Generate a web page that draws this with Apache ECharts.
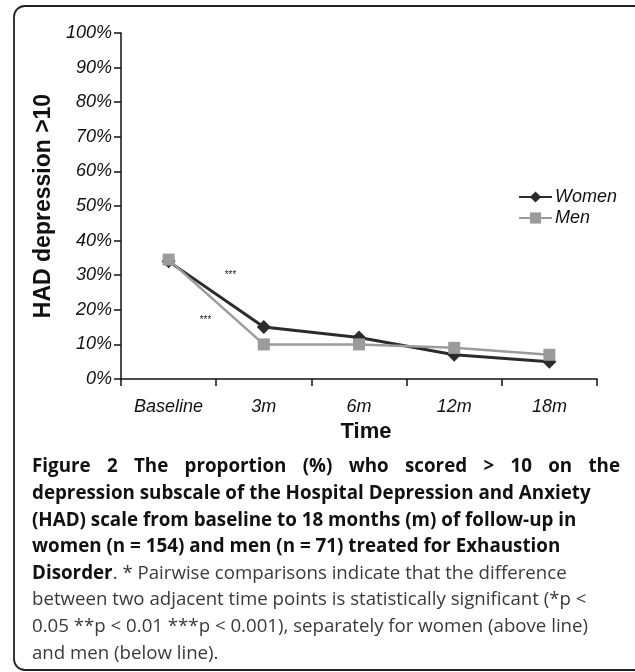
<!DOCTYPE html>
<html>
<head>
<meta charset="utf-8">
<script src="https://cdn.jsdelivr.net/npm/echarts@6/dist/echarts.min.js"></script>
<style>
  html, body { margin: 0; padding: 0; background: #fff; }
  #chart { width: 635px; height: 672px; }
</style>
</head>
<body>
<div id="chart"></div>
<script>
// ---- data ----
const categories = ['Baseline', '3m', '6m', '12m', '18m'];
const women = [34, 15, 12, 7, 5];
const men = [34.5, 10, 10, 9, 7];
const seriesNames = ['Women', 'Men'];
const yAxisTitle = 'HAD depression >10';
const xAxisTitle = 'Time';
const sigWomen = '***';
const sigMen = '***';
const captionBoldLines = [
  'Figure 2 The proportion (%) who scored > 10 on the',
  'depression subscale of the Hospital Depression and Anxiety',
  '(HAD) scale from baseline to 18 months (m) of follow-up in',
  'women (n = 154) and men (n = 71) treated for Exhaustion'
];
const captionMixedBold = 'Disorder';
const captionMixedNormal = '. * Pairwise comparisons indicate that the difference';
const captionNormalLines = [
  'between two adjacent time points is statistically significant (*p <',
  '0.05 **p < 0.01 ***p < 0.001), separately for women (above line)',
  'and men (below line).'
];

// ---- layout helpers ----
const FONT = '"Liberation Sans", Arial, Helvetica, sans-serif';
const CAPFONT = '"Open Sans", "Noto Sans", sans-serif';
const ctx = document.createElement('canvas').getContext('2d');
function tw(text, weight, size, family) {
  ctx.font = weight + ' ' + size + 'px ' + family;
  return ctx.measureText(text).width;
}
const capLeft = 32, capRight = 620;
const boldSize = 20 * 559 / tw(captionBoldLines[1], 'bold', 20, CAPFONT);
const normSize = 20 * 555 / tw(captionNormalLines[0], 'normal', 20, CAPFONT);
const lineY0 = 467, lineH = 26.6;

const graphics = [];
// frame
graphics.push({
  type: 'rect', shape: { x: 14, y: 6, width: 650, height: 664, r: 11 },
  style: { fill: 'none', stroke: '#222', lineWidth: 1.8 }, silent: true
});
// significance annotations
graphics.push({ type: 'text', x: 230, y: 275, style: { text: sigWomen, fontSize: 10, fontFamily: FONT, fontStyle: 'italic', fill: '#222', align: 'center', verticalAlign: 'middle' } });
graphics.push({ type: 'text', x: 205, y: 320, style: { text: sigMen, fontSize: 10, fontFamily: FONT, fontStyle: 'italic', fill: '#222', align: 'center', verticalAlign: 'middle' } });

// first caption line, justified
(function () {
  const words = captionBoldLines[0].split(' ');
  const widths = words.map(w => tw(w, 'bold', boldSize, CAPFONT));
  const total = widths.reduce((a, b) => a + b, 0);
  const gap = (capRight - capLeft - total) / (words.length - 1);
  let x = capLeft;
  words.forEach((w, i) => {
    graphics.push({ type: 'text', x: x, y: lineY0, style: { text: w, fontSize: boldSize, fontWeight: 'bold', fontFamily: CAPFONT, fill: '#111', align: 'left', verticalAlign: 'middle' } });
    x += widths[i] + gap;
  });
})();
for (let i = 1; i < captionBoldLines.length; i++) {
  graphics.push({ type: 'text', x: capLeft, y: lineY0 + lineH * i, style: { text: captionBoldLines[i], fontSize: boldSize, fontWeight: 'bold', fontFamily: CAPFONT, fill: '#111', align: 'left', verticalAlign: 'middle' } });
}
graphics.push({
  type: 'text', x: capLeft, y: lineY0 + lineH * 4,
  style: {
    text: '{b|' + captionMixedBold + '}{n|' + captionMixedNormal + '}',
    align: 'left', verticalAlign: 'middle',
    rich: {
      b: { fontSize: boldSize, fontWeight: 'bold', fontFamily: CAPFONT, fill: '#111' },
      n: { fontSize: normSize, fontWeight: 'normal', fontFamily: CAPFONT, fill: '#3a3a3a' }
    }
  }
});
captionNormalLines.forEach((t, i) => {
  graphics.push({ type: 'text', x: capLeft, y: lineY0 + lineH * (5 + i), style: { text: t, fontSize: normSize, fontFamily: CAPFONT, fill: '#3a3a3a', align: 'left', verticalAlign: 'middle' } });
});

const chart = echarts.init(document.getElementById('chart'), null, { renderer: 'canvas' });
chart.setOption({
  backgroundColor: '#fff',
  animation: false,
  grid: { left: 121, right: 38, top: 33, bottom: 293, containLabel: false },
  legend: {
    orient: 'vertical', left: 513, top: 183,
    itemWidth: 33, itemHeight: 14, itemGap: 3,
    data: seriesNames,
    textStyle: { fontFamily: FONT, fontStyle: 'italic', fontSize: 18, color: '#111', padding: [0, 0, 0, -2] }
  },
  xAxis: {
    type: 'category', data: categories, boundaryGap: true,
    name: xAxisTitle, nameLocation: 'middle', nameGap: 41,
    nameTextStyle: { fontFamily: FONT, fontWeight: 'bold', fontSize: 22, color: '#111', padding: [0, 0, 0, 14] },
    axisLine: { lineStyle: { color: '#111', width: 1.5 } },
    axisTick: { show: true, length: 7, alignWithLabel: false, lineStyle: { color: '#111', width: 1.5 } },
    axisLabel: { fontFamily: FONT, fontStyle: 'italic', fontSize: 18, color: '#111', margin: 19 },
    splitLine: { show: false }
  },
  yAxis: {
    type: 'value', min: 0, max: 100, interval: 10,
    name: yAxisTitle, nameLocation: 'middle', nameGap: 61,
    nameTextStyle: { fontFamily: FONT, fontWeight: 'bold', fontSize: 23, color: '#111' },
    axisLine: { show: true, lineStyle: { color: '#111', width: 1.5 } },
    axisTick: { show: true, length: 7, lineStyle: { color: '#111', width: 1.5 } },
    axisLabel: { formatter: '{value}%', fontFamily: FONT, fontStyle: 'italic', fontSize: 18, color: '#111', margin: 9 },
    splitLine: { show: false }
  },
  series: [
    {
      name: seriesNames[0], type: 'line', data: women,
      symbol: 'diamond', symbolSize: 14,
      itemStyle: { color: '#2b2b2b' },
      lineStyle: { color: '#2b2b2b', width: 3 },
      z: 2
    },
    {
      name: seriesNames[1], type: 'line', data: men,
      symbol: 'rect', symbolSize: 12,
      itemStyle: { color: '#9b9b9b' },
      lineStyle: { color: '#9b9b9b', width: 2.5 },
      z: 3
    }
  ],
  graphic: graphics
});
</script>
</body>
</html>
